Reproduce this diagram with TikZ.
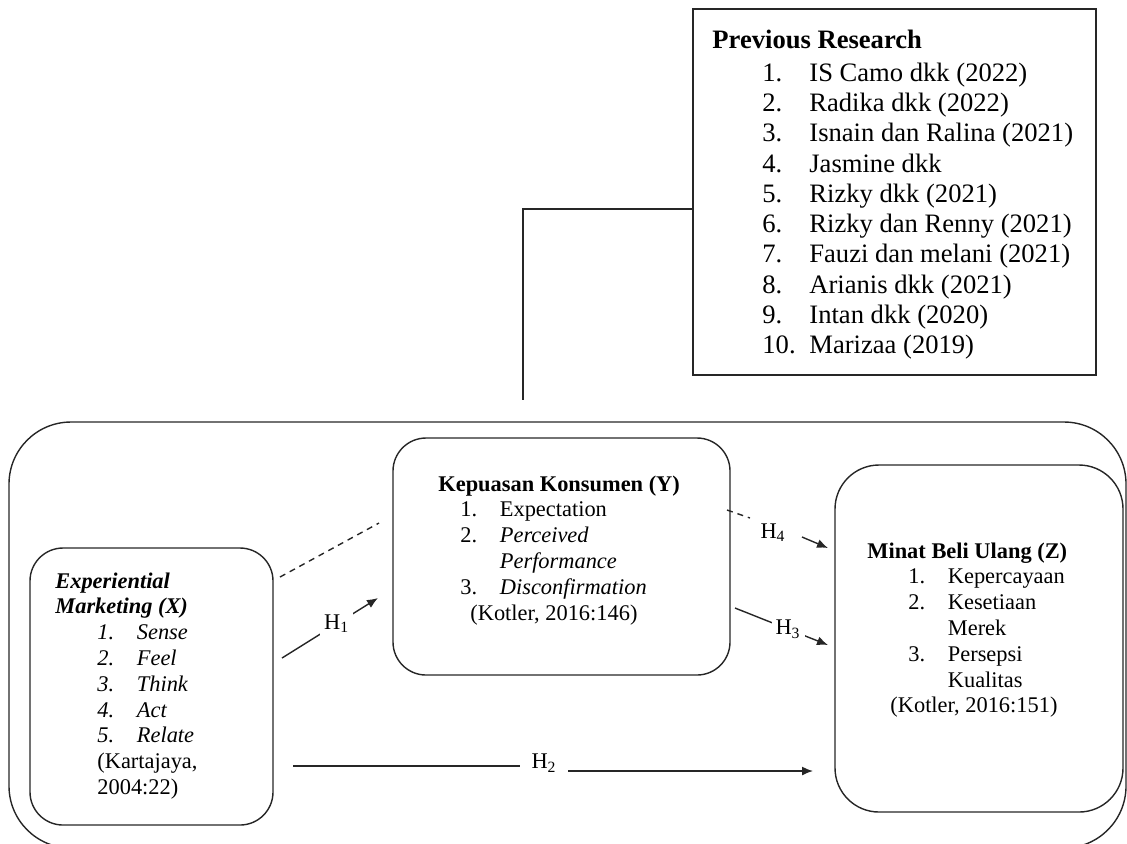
\documentclass[tikz,border=0pt]{standalone}
\usepackage{fontspec}
\setmainfont{Liberation Serif}
\usetikzlibrary{arrows.meta}

\newcommand{\itm}[2]{\makebox[19.75pt][l]{#1}#2}
\newcommand{\itmp}[2]{\makebox[23.5pt][l]{#1}#2}

\begin{document}
\begin{tikzpicture}[x=0.5pt, y=-0.5pt,
                    conn/.style={draw=black!85, line width=0.7pt},
                    varbox/.style={conn, rounded corners=#1, inner sep=0pt},
                    arr/.style={conn, -{Latex[length=5.5pt,width=4.5pt]}},
                    lbl/.style={fill=white, inner sep=2pt, font=\fontsize{11.2}{13}\selectfont},
                    txt/.style={anchor=base west, inner sep=0pt, text width=#1, align=flush left,
                                font=\fontsize{11.2}{12.9}\selectfont}]
  \useasboundingbox (0,0) rectangle (1127,843);
  \clip (0,0) rectangle (1127,843);

  % outer frame
  \draw[conn, rounded corners=31pt] (9,422) rectangle (1126,848);

  % previous research
  \node[conn, inner sep=0pt, minimum width=201.5pt, minimum height=183pt] (prev) at (894.5,192) {};
  \node[anchor=base west, inner sep=0pt, font=\fontsize{13.3}{15.2}\selectfont\bfseries]
    (prevtitle) at (712,48) {Previous Research};
  \foreach \t [count=\i] in {IS Camo dkk (2022), Radika dkk (2022), Isnain dan Ralina (2021),
      Jasmine dkk, Rizky dkk (2021), Rizky dan Renny (2021), Fauzi dan melani (2021),
      Arianis dkk (2021), Intan dkk (2020), Marizaa (2019)}
    \node[anchor=base west, inner sep=0pt, font=\fontsize{13.3}{15.2}\selectfont]
      (prev\i) at (762,{50.67+30.33*\i}) {\itmp{\i.}{\t}};

  % variables
  \node[varbox=16.5pt, minimum width=121.5pt, minimum height=138.5pt] (mx) at (151.5,686.5) {};
  \node[varbox=16.5pt, minimum width=168.5pt, minimum height=118.5pt] (ky) at (561.5,556.5) {};
  \node[varbox=22pt, minimum width=144pt, minimum height=173.5pt] (mz) at (979,638.5) {};

  \node[txt=110pt] (mxtext) at (55,588) {%
    {\bfseries\itshape Experiential\\ Marketing (X)}\\
    \hspace*{21pt}\itm{\textit{1.}}{\textit{Sense}}\\
    \hspace*{21pt}\itm{\textit{2.}}{\textit{Feel}}\\
    \hspace*{21pt}\itm{\textit{3.}}{\textit{Think}}\\
    \hspace*{21pt}\itm{\textit{4.}}{\textit{Act}}\\
    \hspace*{21pt}\itm{\textit{5.}}{\textit{Relate}}\\
    \hspace*{21pt}(Kartajaya,\\
    \hspace*{21pt}2004:22)};
  \node[txt=160pt] (kytext) at (438,491) {%
    \textbf{Kepuasan Konsumen (Y)}\\
    \hspace*{11pt}\itm{1.}{Expectation}\\
    \hspace*{11pt}\itm{2.}{\textit{Perceived}}\\
    \hspace*{30.75pt}\textit{Performance}\\
    \hspace*{11pt}\itm{3.}{\textit{Disconfirmation}}\\
    \hspace*{16pt}(Kotler, 2016:146)};
  \node[txt=130pt] (mztext) at (867,558) {%
    \textbf{Minat Beli Ulang (Z)}\\
    \hspace*{20.5pt}\itm{1.}{Kepercayaan}\\
    \hspace*{20.5pt}\itm{2.}{Kesetiaan}\\
    \hspace*{40.25pt}Merek\\
    \hspace*{20.5pt}\itm{3.}{Persepsi}\\
    \hspace*{40.25pt}Kualitas\\
    \hspace*{11.5pt}(Kotler, 2016:151)};

  % connectors
  \coordinate (prevknee) at (523,209);
  \coordinate (prevend) at (523,400);
  \draw[conn] (prev.west |- prevknee) -- (prevknee) -- (prevend);

  \coordinate (dxs) at (280,577);
  \coordinate (dxe) at (379,523);
  \draw[conn, dash pattern=on 3pt off 2.5pt] (dxs) -- (dxe);

  \coordinate (h1s) at (282,658);
  \coordinate (h1e) at (378,598);
  \draw[arr] (h1s) -- node[lbl, pos=0.57] (h1) {H\textsubscript{1}} (h1e);

  \coordinate (h2s) at (293,766);
  \coordinate (h2a) at (520,766);
  \coordinate (h2b) at (568,771);
  \coordinate (h2e) at (813,771);
  \node[lbl] (h2) at (544,763) {H\textsubscript{2}};
  \draw[conn] (h2s) -- (h2a);
  \draw[arr] (h2b) -- (h2e);

  \coordinate (h3s) at (735,608);
  \coordinate (h3e) at (828,645);
  \draw[arr] (h3s) -- node[lbl, pos=0.57] (h3) {H\textsubscript{3}} (h3e);

  \coordinate (h4s) at (727,510);
  \coordinate (h4a) at (750,518);
  \coordinate (h4b) at (802,537);
  \coordinate (h4e) at (828,548);
  \node[lbl] (h4) at (773,533) {H\textsubscript{4}};
  \draw[conn, dash pattern=on 3pt off 2.5pt] (h4s) -- (h4a);
  \draw[arr] (h4b) -- (h4e);
\end{tikzpicture}
\end{document}
